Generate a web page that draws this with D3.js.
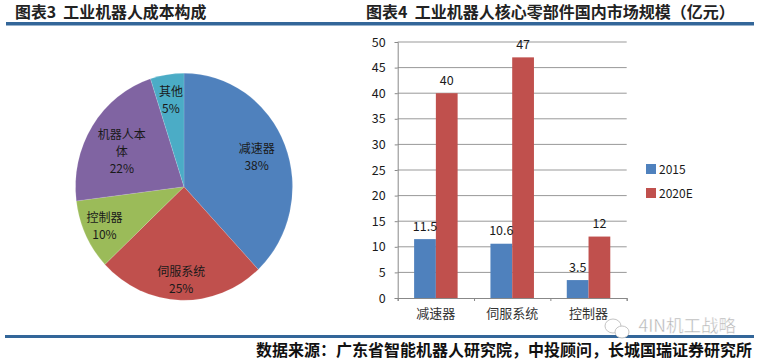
<!DOCTYPE html>
<html><head><meta charset="utf-8">
<script src="https://cdn.jsdelivr.net/npm/d3@7/dist/d3.min.js"></script>
<style>html,body{margin:0;padding:0;background:#fff}svg{display:block}text{font-family:"Noto Sans CJK SC","Liberation Sans",sans-serif}</style>
</head><body><svg id="c" width="759" height="361"></svg>
<script>
const pieLabels=["减速器","伺服系统","控制器","机器人本体","其他"];
const pieValues=[38,25,10,22,5];
const pieColors=["#4f81bd","#c0504d","#9bbb59","#8064a2","#4bacc6"];
const categories=["减速器","伺服系统","控制器"];
const seriesNames=["2015","2020E"];
const values2015=[11.5,10.6,3.5];
const values2020=[40,47,12];
const valueLabels2015=["11.5","10.6","3.5"];
const valueLabels2020=["40","47","12"];
const yTicks=[0,5,10,15,20,25,30,35,40,45,50];
const title3="图表3  工业机器人成本构成";
const title4="图表4  工业机器人核心零部件国内市场规模（亿元）";
const source="数据来源：广东省智能机器人研究院，中投顾问，长城国瑞证券研究所";
const watermark="4IN机工战略";

const svg=d3.select("#c");
const rule="#336699";
[[6,754,22,3.5],[5,754,335,3]].forEach(r=>svg.append("rect").attr("x",r[0]).attr("y",r[2]).attr("width",r[1]-r[0]).attr("height",r[3]).attr("fill",rule));
svg.append("text").attr("x",15).attr("y",18).attr("font-size",15.9).attr("font-weight",700).attr("fill","#222").attr("xml:space","preserve").text(title3);
svg.append("text").attr("x",366).attr("y",18).attr("font-size",16).attr("font-weight",700).attr("fill","#222").attr("xml:space","preserve").text(title4);
svg.append("text").attr("x",752).attr("y",355.5).attr("text-anchor","end").attr("font-size",16).attr("font-weight",700).attr("fill","#111").text(source);

// pie
const cx=184,cy=186.7,rx=108.5,ry=113.5;
const arcs=d3.pie().sort(null).value(d=>d)(pieValues);
const arc=d3.arc().innerRadius(0).outerRadius(rx);
const pg=svg.append("g").attr("transform",`translate(${cx},${cy}) scale(1,${ry/rx})`);
pg.selectAll("path").data(arcs).join("path").attr("d",arc).attr("fill",(d,i)=>pieColors[i]).attr("stroke","#fff").attr("stroke-opacity",.25).attr("stroke-width",.5);
const labelRadius=[.72,.82,.81,.58,.77];
const labelNudge=[0,0,0,-9,0];
const pl=svg.append("g").attr("transform",`translate(${cx},${cy})`).attr("text-anchor","middle").attr("font-size",12).attr("fill","#1a1a1a");
function wrapLabel(s){return s.length>4?[s.slice(0,4),s.slice(4)]:[s];}
arcs.forEach((d,i)=>{
  const r=rx*labelRadius[i];
  const c=d3.arc().innerRadius(r).outerRadius(r).centroid(d);
  const lines=wrapLabel(pieLabels[i]).concat([pieValues[i]+"%"]);
  const y0=c[1]*(ry/rx)-(lines.length-1)*8.6+4.5;
  lines.forEach((t,j)=>pl.append("text").attr("x",c[0]+labelNudge[i]).attr("y",y0+j*17.2).text(t));
});

// bars
const L=397.7,R=626.7,T=42,B=298;
const y=d3.scaleLinear().domain([0,50]).range([B,T]);
const x0=d3.scaleBand().domain(categories).range([L,R]).paddingInner(.43).paddingOuter(.215);
const x1=d3.scaleBand().domain(seriesNames).range([0,x0.bandwidth()]);
const xEdges=d3.scaleLinear().domain([0,categories.length]).range([L,R]);
const g=svg.append("g");
g.append("g").selectAll("line").data(yTicks.filter(d=>d>0)).join("line").attr("x1",L).attr("x2",R).attr("y1",d=>y(d)).attr("y2",d=>y(d)).attr("stroke","#999").attr("stroke-width",1);
const ya=g.append("g").attr("transform",`translate(${L},0)`).call(d3.axisLeft(y).tickValues(yTicks).tickSize(3).tickPadding(9));
ya.selectAll("text").attr("font-size",12.5).attr("fill","#1a1a1a");
ya.selectAll("line,path").attr("stroke","#888");
const groups=[values2015,values2020];
seriesNames.forEach((s,k)=>{
  g.append("g").selectAll("rect").data(categories).join("rect")
   .attr("x",c=>x0(c)+x1(s)).attr("width",x1.bandwidth())
   .attr("y",(c,i)=>y(groups[k][i])).attr("height",(c,i)=>B-y(groups[k][i]))
   .attr("fill",pieColors[k]);
});
const xe=g.append("g").attr("transform",`translate(0,${B})`).call(d3.axisBottom(xEdges).tickValues(d3.range(categories.length+1)).tickFormat("").tickSize(3));
xe.selectAll("line,path").attr("stroke","#888");
const xa=g.append("g").attr("transform",`translate(0,${B})`).call(d3.axisBottom(x0).tickSize(0).tickPadding(11));
xa.select("path").remove();
xa.selectAll("text").attr("font-size",13).attr("fill","#333");
const valLabs=[valueLabels2015,valueLabels2020];
seriesNames.forEach((s,k)=>{
  g.append("g").selectAll("text").data(categories).join("text")
   .attr("x",c=>x0(c)+x1(s)+x1.bandwidth()/2).attr("y",(c,i)=>y(groups[k][i])-8.5)
   .attr("text-anchor","middle").attr("font-size",12.5).attr("fill","#1a1a1a").text((c,i)=>valLabs[k][i]);
});
// legend
const legY=d3.scalePoint().domain(seriesNames).range([169,193]);
seriesNames.forEach((s,k)=>{
  svg.append("rect").attr("x",646).attr("y",legY(s)-5).attr("width",10).attr("height",10).attr("fill",pieColors[k]);
  svg.append("text").attr("x",659).attr("y",legY(s)+4.5).attr("font-size",12).attr("fill","#1a1a1a").text(s);
});
// watermark
svg.append("text").attr("x",736).attr("y",331.5).attr("text-anchor","end").attr("font-size",17.5).attr("fill","#b4b4b4").attr("stroke","#fff").attr("stroke-width",.4).text(watermark);
const wm=svg.append("g").attr("transform","translate(613,326)").attr("fill","#fff").attr("stroke","#c4c4c4").attr("stroke-width",1);
wm.append("ellipse").attr("cx",0).attr("cy",0).attr("rx",8).attr("ry",7);
wm.append("ellipse").attr("cx",9).attr("cy",6).attr("rx",7).attr("ry",6);
</script></body></html>
